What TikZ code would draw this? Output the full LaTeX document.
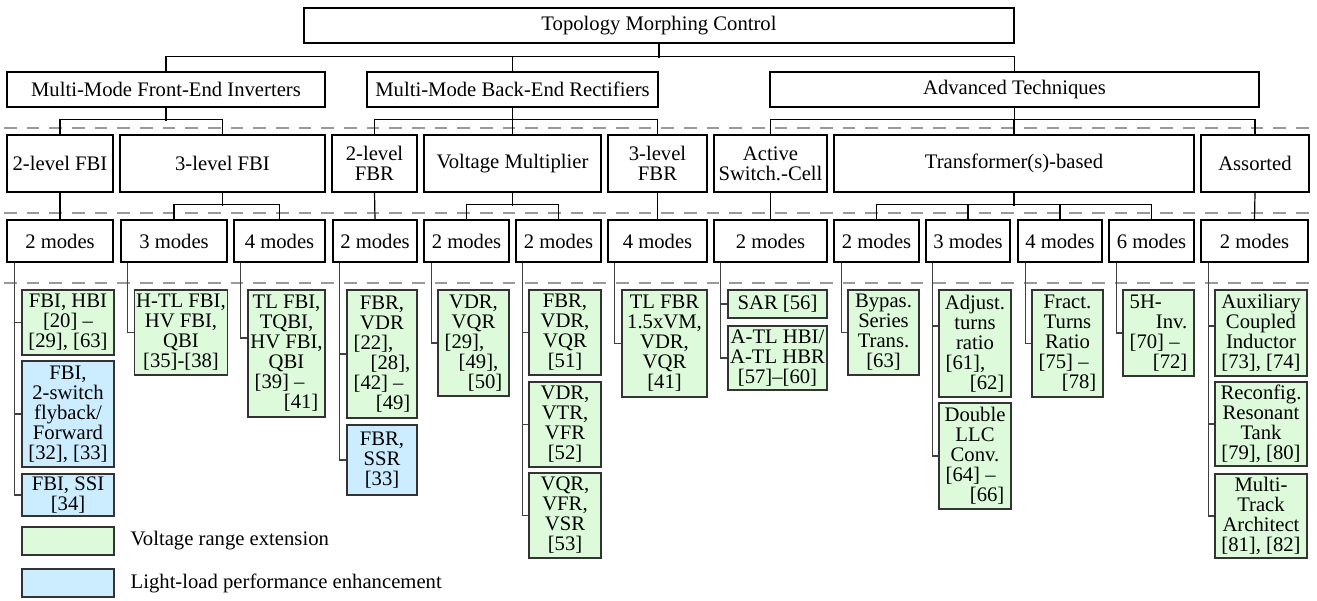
\documentclass[tikz,border=0pt]{standalone}
\usepackage{fontspec}
\setmainfont{Liberation Serif}
\definecolor{vre}{RGB}{221,250,219}
\definecolor{lle}{RGB}{204,236,255}
\newlength\leafw
% left / right aligned lines inside a leaf box
\newcommand\Lpart[1]{\makebox[\leafw][l]{#1}}
\newcommand\Rpart[1]{\makebox[\leafw][r]{#1}}
% \tcell{style}{name}{x1}{y1}{x2}{y2}{text}: a box spanning the given corners
\newcommand\tcell[7]{%
  \pgfmathsetmacro\cellw{(#5-#3)*0.75}%
  \pgfmathsetmacro\cellh{(#6-#4)*0.75}%
  \setlength\leafw{\cellw pt}%
  \addtolength\leafw{-10pt}%
  \node[#1, minimum width=\cellw pt, minimum height=\cellh pt] (#2) at ({(#3+#5)/2},{(#4+#6)/2}) {#7};}
\begin{document}
\begin{tikzpicture}[x=0.75pt,y=-0.75pt,
  every node/.style={font=\fontsize{15.5}{15}\selectfont},
  box/.style={draw=black, line width=0.8pt, fill=white, align=center, inner xsep=1pt, inner ysep=0pt},
  leaf/.style={box, draw=black!80, line width=0.9pt},
  vre/.style={leaf, fill=vre},
  lle/.style={leaf, fill=lle},
  link/.style={draw=black, line width=0.9pt},
  sublink/.style={draw=black!75, line width=0.9pt},
  sep/.style={draw=black!40, line width=0.9pt, dash pattern=on 9.5pt off 7.5pt}]
\useasboundingbox (0,0) rectangle (1317,600);

% level separators
\draw[sep] (4,128) -- (1312,128);
\draw[sep] (4,213) -- (1312,213);
\draw[sep] (4,283) -- (1312,283);

% root and main branches
\tcell{box}{root}{304}{8}{1014}{43}{Topology Morphing Control}
\tcell{box}{fe}{7}{72}{325}{107}{Multi-Mode Front-End Inverters}
\tcell{box}{be}{367}{72}{658}{107}{Multi-Mode Back-End Rectifiers}
\tcell{box}{adv}{770}{72}{1259}{107}{Advanced Techniques}

% topology families
\tcell{box}{fbi2}{7}{135}{113}{192}{2-level FBI}
\tcell{box}{fbi3}{120}{135}{325}{192}{3-level FBI}
\tcell{box}{fbr2}{332}{135}{417}{192}{2-level\\FBR}
\tcell{box}{vm}{424}{135}{601}{192}{Voltage Multiplier}
\tcell{box}{fbr3}{608}{135}{707}{192}{3-level\\FBR}
\tcell{box}{asc}{714}{135}{827}{192}{Active\\Switch.-Cell}
\tcell{box}{trb}{834}{135}{1194}{192}{Transformer(s)-based}
\tcell{box}{aso}{1201}{135}{1309}{192}{Assorted}

% number of modes
\tcell{box}{m1}{7}{220}{113}{262}{2 modes}
\tcell{box}{m2}{121}{220}{227}{262}{3 modes}
\tcell{box}{m3}{234}{220}{325}{262}{4 modes}
\tcell{box}{m4}{333}{220}{417}{262}{2 modes}
\tcell{box}{m5}{424}{220}{509}{262}{2 modes}
\tcell{box}{m6}{516}{220}{601}{262}{2 modes}
\tcell{box}{m7}{608}{220}{707}{262}{4 modes}
\tcell{box}{m8}{714}{220}{827}{262}{2 modes}
\tcell{box}{m9}{834}{220}{919}{262}{2 modes}
\tcell{box}{m10}{926}{220}{1010}{262}{3 modes}
\tcell{box}{m11}{1018}{220}{1102}{262}{4 modes}
\tcell{box}{m12}{1109}{220}{1194}{262}{6 modes}
\tcell{box}{m13}{1201}{220}{1308}{262}{2 modes}

% individual topologies
\tcell{vre}{l1}{22}{290}{114}{355}{FBI, HBI\\{}[20] –\\{}[29], [63]}
\tcell{lle}{l2}{22}{361}{114}{467}{FBI,\\2-switch\\flyback/\\Forward\\{}[32], [33]}
\tcell{lle}{l3}{22}{474}{114}{516}{FBI, SSI\\{}[34]}
\tcell{vre}{l4}{135}{290}{227}{375}{H-TL FBI,\\HV FBI,\\QBI\\{}[35]-[38]}
\tcell{vre}{l5}{248}{290}{325}{417}{TL FBI,\\TQBI,\\HV FBI,\\QBI\\\Lpart{[39] –}\\\Rpart{[41]}}
\tcell{vre}{l6}{347}{290}{417}{418}{FBR,\\VDR\\\Lpart{[22],}\\\Rpart{[28],}\\\Lpart{[42] –}\\\Rpart{[49]}}
\tcell{lle}{l7}{347}{425}{417}{495}{FBR,\\SSR\\{}[33]}
\tcell{vre}{l8}{438}{290}{509}{396}{VDR,\\VQR\\\Lpart{[29],}\\\Rpart{[49],\hspace{3pt}}\\\Rpart{[50]}}
\tcell{vre}{l9}{529}{290}{601}{375}{FBR,\\VDR,\\VQR\\{}[51]}
\tcell{vre}{l10}{529}{382}{601}{467}{VDR,\\VTR,\\VFR\\{}[52]}
\tcell{vre}{l11}{529}{473}{601}{558}{VQR,\\VFR,\\VSR\\{}[53]}
\tcell{vre}{l12}{622}{290}{707}{397}{TL FBR\\1.5xVM,\\VDR,\\VQR\\{}[41]}
\tcell{vre}{l13}{728}{290}{827}{318}{SAR [56]}
\tcell{vre}{l14}{728}{326}{827}{390}{A-TL HBI/\\A-TL HBR\\{}[57]–[60]}
\tcell{vre}{l15}{848}{290}{919}{375}{Bypas.\\Series\\Trans.\\{}[63]}
\tcell{vre}{l16}{939}{290}{1011}{397}{Adjust.\\turns\\ratio\\\Lpart{[61],}\\\Rpart{[62]}}
\tcell{vre}{l17}{939}{403}{1011}{509}{Double\\LLC\\Conv.\\\Lpart{[64] –}\\\Rpart{[66]}}
\tcell{vre}{l18}{1032}{290}{1103}{397}{Fract.\\Turns\\Ratio\\\Lpart{[75] –}\\\Rpart{[78]}}
\tcell{vre}{l19}{1123}{290}{1194}{376}{\Lpart{5H-}\\\Rpart{Inv.}\\\Lpart{[70] –}\\\Rpart{[72]}}
\tcell{vre}{l20}{1215}{290}{1307}{376}{Auxiliary\\Coupled\\Inductor\\{}[73], [74]}
\tcell{vre}{l21}{1215}{382}{1307}{466}{Reconfig.\\Resonant\\Tank\\{}[79], [80]}
\tcell{vre}{l22}{1215}{474}{1307}{558}{Multi-\\Track\\Architect\\{}[81], [82]}

% legend
\tcell{vre}{key1}{22}{527}{114}{555}{}
\tcell{lle}{key2}{22}{569}{114}{597}{}
\node[anchor=west] (key1t) at (126,541) {Voltage range extension};
\node[anchor=west] (key2t) at (126,583) {Light-load performance enhancement};

% root to main branches
\draw[link] (root.south) -- ++(0,14);
\draw[link] (fe.north) -- ++(0,-15) -| (adv.north);
\draw[link] (be.north) -- ++(0,-15);

% main branches to families
\draw[link] (fe.south) -- ++(0,13);
\draw[link] (fbi2.north) -- ++(0,-15) -| (fbi3.north);
\draw[link] (be.south) -- ++(0,13);
\draw[link] (fbr2.north) -- ++(0,-15) -| (fbr3.north);
\draw[link] (vm.north) -- ++(0,-15);
\draw[link] (adv.south) -- ++(0,13);
\draw[link] (asc.north) -- ++(0,-15) -| (aso.north);
\draw[link] (trb.north) -- ++(0,-15);

% families to mode counts
\draw[link] (fbi2.south) -- (m1.north);
\draw[link] (fbi3.south) -- ++(0,13);
\draw[link] (m2.north) -- ++(0,-15) -| (m3.north);
\draw[link] (fbr2.south) -- (m4.north);
\draw[link] (vm.south) -- ++(0,13);
\draw[link] (m5.north) -- ++(0,-15) -| (m6.north);
\draw[link] (fbr3.south) -- (m7.north);
\draw[link] (asc.south) -- (m8.north);
\draw[link] (trb.south) -- ++(0,13);
\draw[link] (m9.north) -- ++(0,-15) -| (m12.north);
\draw[link] (m10.north) -- ++(0,-15);
\draw[link] (m11.north) -- ++(0,-15);
\draw[link] (aso.south) -- (m13.north);

% mode counts to topologies
\draw[sublink] ([xshift=6pt]m1.south west) |- (l1.west)
               ([xshift=6pt]m1.south west) |- (l2.west)
               ([xshift=6pt]m1.south west) |- (l3.west);
\draw[sublink] ([xshift=5.5pt]m2.south west) |- (l4.west);
\draw[sublink] ([xshift=5.5pt]m3.south west) |- (l5.west |- 0,338);
\draw[sublink] ([xshift=5.5pt]m4.south west) |- (l6.west)
               ([xshift=5.5pt]m4.south west) |- (l7.west);
\draw[sublink] ([xshift=6pt]m5.south west) |- (l8.west);
\draw[sublink] ([xshift=5.5pt]m6.south west) |- (l9.west)
               ([xshift=5.5pt]m6.south west) |- (l10.west)
               ([xshift=5.5pt]m6.south west) |- (l11.west);
\draw[sublink] ([xshift=5.5pt]m7.south west) |- (l12.west);
\draw[sublink] ([xshift=5.5pt]m8.south west) |- (l13.west)
               ([xshift=5.5pt]m8.south west) |- (l14.west);
\draw[sublink] ([xshift=6pt]m9.south west) |- (l15.west);
\draw[sublink] ([xshift=5.5pt]m10.south west) |- (l16.west |- 0,326)
               ([xshift=5.5pt]m10.south west) |- (l17.west);
\draw[sublink] ([xshift=6pt]m11.south west) |- (l18.west);
\draw[sublink] ([xshift=6pt]m12.south west) |- (l19.west);
\draw[sublink] ([xshift=6pt]m13.south west) |- (l20.west |- 0,326)
               ([xshift=6pt]m13.south west) |- (l21.west)
               ([xshift=6pt]m13.south west) |- (l22.west);
\end{tikzpicture}
\end{document}
